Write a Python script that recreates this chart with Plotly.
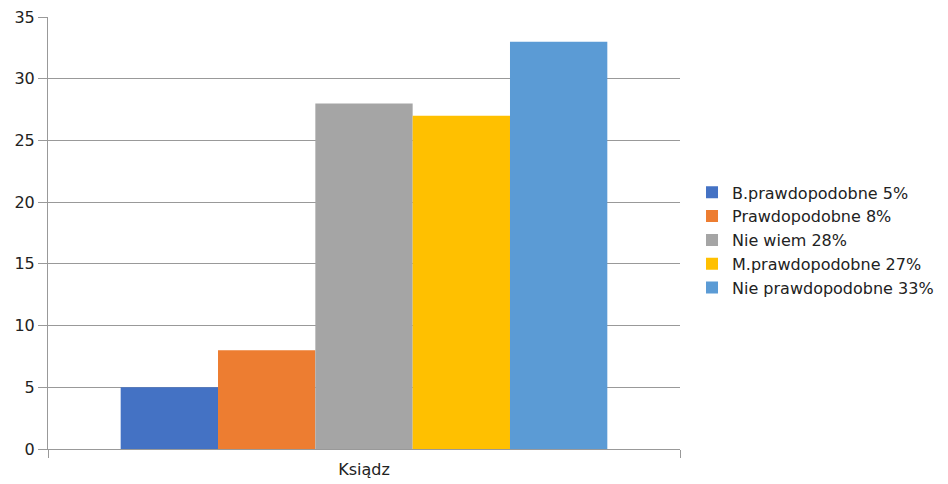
import plotly.graph_objects as go

categories = ["Ksiądz"]
series_names = ["B.prawdopodobne 5%", "Prawdopodobne 8%", "Nie wiem 28%", "M.prawdopodobne 27%", "Nie prawdopodobne 33%"]
series_values = [5, 8, 28, 27, 33]
series_colors = ["#4472C4", "#ED7D31", "#A5A5A5", "#FFC000", "#5B9BD5"]
y_ticks = [0, 5, 10, 15, 20, 25, 30, 35]

fig = go.Figure()
for name, val, col in zip(series_names, series_values, series_colors):
    fig.add_trace(go.Bar(x=categories, y=[val], name=name, marker=dict(color=col, line=dict(width=0))))

grid = "#999999"
fig.update_layout(
    width=940, height=476,
    margin=dict(l=40, r=268, t=9, b=35, autoexpand=False),
    paper_bgcolor="white", plot_bgcolor="white",
    barmode="group", bargap=0.23, bargroupgap=0,
    font=dict(family="DejaVu Sans, sans-serif", size=16, color="#222222"),
    legend=dict(x=1.019, y=0.484, xanchor="left", yanchor="middle",
                font=dict(size=16), tracegroupgap=0, itemwidth=30),
    showlegend=True,
)
fig.update_yaxes(range=[0, 35], tickvals=y_ticks, showgrid=True, gridcolor=grid, gridwidth=1,
                 zeroline=False, showline=True, linecolor=grid, linewidth=1, automargin=False,
                 ticks="outside", ticklen=9, tickcolor=grid, tickfont=dict(size=16),
                 ticklabeloverflow="allow")
fig.update_xaxes(showline=True, linecolor=grid, linewidth=1, ticks="outside", ticklen=8,
                 tickcolor=grid, tickson="boundaries", tickfont=dict(size=16), automargin=False,
                 ticklabelstandoff=6, ticklabeloverflow="allow")

fig.write_html("out.html")
